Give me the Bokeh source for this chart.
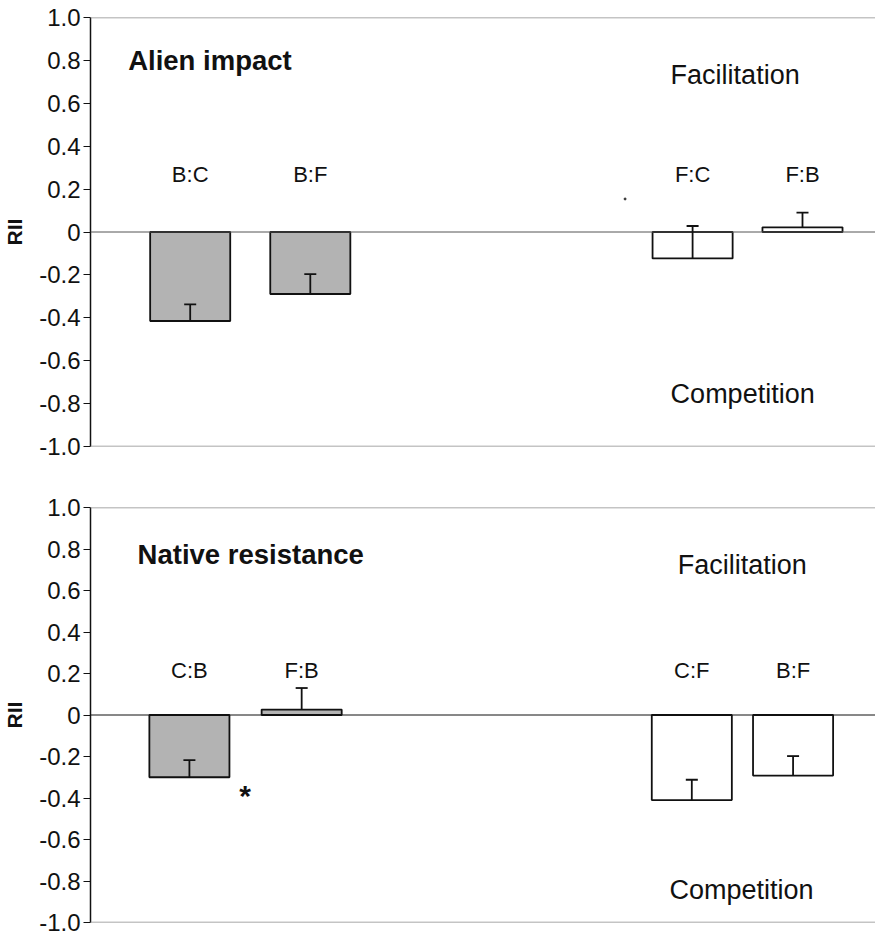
from bokeh.plotting import figure
from bokeh.layouts import column
from bokeh.models import Range1d, FixedTicker, Span, Whisker, TeeHead, Label, ColumnDataSource
from bokeh.embed import file_html
from bokeh.resources import INLINE
from bokeh.core.properties import value

# ---- data -------------------------------------------------------------
impact_pairs = ["B:C", "B:F", "F:C", "F:B"]
impact_rii = [-0.415, -0.289, -0.123, 0.022]
impact_se = [0.078, 0.093, 0.151, 0.068]

resist_pairs = ["C:B", "F:B", "C:F", "B:F"]
resist_rii = [-0.300, 0.026, -0.410, -0.292]
resist_se = [0.083, 0.104, 0.098, 0.094]

tick_values = [-1.0, -0.8, -0.6, -0.4, -0.2, 0.0, 0.2, 0.4, 0.6, 0.8, 1.0]
tick_labels = ["-1.0", "-0.8", "-0.6", "-0.4", "-0.2", "0", "0.2", "0.4", "0.6", "0.8", "1.0"]

# ---- styling ----------------------------------------------------------
FONT = "Liberation Sans"
INK = "#111111"
BAR_FILLS = ["#b3b3b3", "#b3b3b3", "#ffffff", "#ffffff"]
BAR_WIDTH = 10.2


def make_panel(title, pairs, rii, se, xs, *, height, top, bottom, left,
               title_pos, fac_pos, comp_pos, pair_label_y, zero_color):
    p = figure(width=875, height=height, output_backend="svg", toolbar_location=None,
               x_range=Range1d(0, 100), y_range=Range1d(-1.0, 1.0),
               min_border_left=left, min_border_right=0,
               min_border_top=top, min_border_bottom=bottom)
    p.outline_line_color = None
    p.grid.visible = False
    p.xaxis.visible = False
    p.background_fill_color = "white"
    p.border_fill_color = "white"

    ax = p.yaxis[0]
    ax.ticker = FixedTicker(ticks=tick_values)
    ax.major_label_overrides = {v: s for v, s in zip(tick_values, tick_labels)}
    ax.minor_tick_line_color = None
    ax.major_tick_in = 0
    ax.major_tick_out = 7
    ax.major_tick_line_color = INK
    ax.axis_line_color = INK
    ax.axis_line_width = 1.5
    ax.major_label_standoff = 3
    ax.major_label_text_font = FONT
    ax.major_label_text_font_size = "24px"
    ax.major_label_text_color = INK
    ax.axis_label = "RII"
    ax.axis_label_text_font = FONT
    ax.axis_label_text_font_style = "bold"
    ax.axis_label_text_font_size = "21px"
    ax.axis_label_text_color = INK
    ax.axis_label_standoff = 10

    # frame lines at top, bottom and zero
    p.add_layout(Span(location=1.0, dimension="width", line_color="#8a8a8a", line_width=1.5))
    p.add_layout(Span(location=-1.0, dimension="width", line_color="#8a8a8a", line_width=1.5))
    p.add_layout(Span(location=0.0, dimension="width", line_color=zero_color, line_width=1))

    src = ColumnDataSource(dict(x=xs, rii=rii, upper=[r + e for r, e in zip(rii, se)],
                                fill=BAR_FILLS, pair=pairs))
    p.vbar(x="x", top="rii", bottom=0, width=BAR_WIDTH, source=src,
           fill_color="fill", line_color=INK, line_width=1.8)
    p.add_layout(Whisker(base="x", lower="rii", upper="upper", source=src,
                         dimension="height", line_color=INK, line_width=1.8,
                         level="overlay",
                         upper_head=TeeHead(size=12, line_color=INK, line_width=1.8),
                         lower_head=None))

    p.text(x="x", y=pair_label_y, text="pair", source=src, text_align="center",
           text_baseline="alphabetic", text_font=value(FONT), text_font_size="22px",
           text_color=INK)

    p.add_layout(Label(x=title_pos[0], y=title_pos[1], text=title, text_font=FONT,
                       text_font_size="27.5px", text_font_style="bold", text_color=INK,
                       text_baseline="alphabetic"))
    p.add_layout(Label(x=fac_pos[0], y=fac_pos[1], text="Facilitation", text_font=FONT,
                       text_font_size="27px", text_color=INK, text_baseline="alphabetic"))
    p.add_layout(Label(x=comp_pos[0], y=comp_pos[1], text="Competition", text_font=FONT,
                       text_font_size="27px", text_color=INK, text_baseline="alphabetic"))
    return p


top_panel = make_panel("Alien impact", impact_pairs, impact_rii, impact_se,
                       [12.7, 28.0, 76.7, 90.7],
                       height=476, top=17, bottom=30, left=86,
                       title_pos=(4.8, 0.80), fac_pos=(73.9, 0.733),
                       comp_pos=(73.9, -0.757), pair_label_y=0.267,
                       zero_color="#555555")
# small stray point in the upper panel
top_panel.scatter(x=[68.1], y=[0.154], size=2, color="#333333")

bottom_panel = make_panel("Native resistance", resist_pairs, resist_rii, resist_se,
                          [12.6, 26.9, 76.6, 89.5],
                          height=460, top=31, bottom=14, left=89,
                          title_pos=(6.0, 0.773), fac_pos=(74.8, 0.725),
                          comp_pos=(73.75, -0.841), pair_label_y=0.213,
                          zero_color="#111111")
# significance marker
bottom_panel.add_layout(Label(x=19.7, y=-0.39, text="*", text_font=FONT,
                              text_font_size="30px", text_font_style="bold",
                              text_color=INK, text_align="center",
                              text_baseline="alphabetic"))

layout = column(top_panel, bottom_panel, spacing=0)
open("out.html", "w").write(file_html(layout, INLINE))
